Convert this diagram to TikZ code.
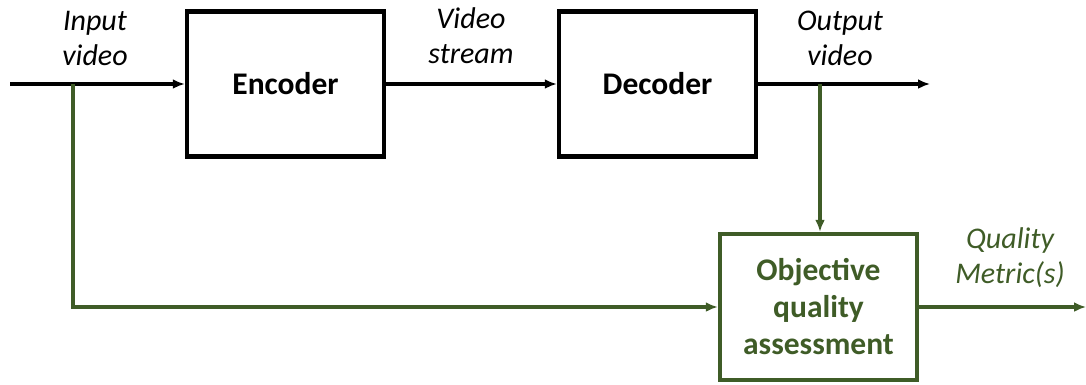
\documentclass[tikz,border=0pt]{standalone}
\usepackage{fontspec}
\setmainfont{Carlito}
\usepackage{tikz}
\usetikzlibrary{arrows.meta}
\usetikzlibrary{calc}

\definecolor{qagreen}{RGB}{63,92,39}

\tikzset{
	block/.style={draw, line width=4.5pt, minimum width=197pt, minimum height=145pt, align=center, font=\fontsize{31.5}{37}\selectfont\bfseries},
	lbl/.style={align=center, font=\fontsize{30}{35}\selectfont\itshape},
	flow/.style={-{Latex[length=12pt,width=10pt]}, line width=3.5pt},
}

\begin{document}
\begin{tikzpicture}[x=1pt,y=-1pt]
	\useasboundingbox (0,0) rectangle (1086,384);

	\node[block] (enc) at (285.5,84) {Encoder};
	\node[block] (dec) at (657.5,84) {Decoder};
	\node[block, qagreen, minimum height=146pt] (oqa) at (818.5,307) {Objective\\quality\\assessment};

	\coordinate (src) at (10,84);
	\coordinate (tapin) at (73,84);
	\coordinate (out) at (930,84);
	\coordinate (tapout) at (820,84);
	\coordinate (qm) at (1086,307);

	\node[lbl] (lin) at (95,38) {Input\\video};
	\node[lbl] (lstream) at (471,36) {Video\\stream};
	\node[lbl] (lout) at (840,38) {Output\\video};
	\node[lbl, qagreen] (lqm) at (1010,258) {Quality\\Metric(s)};

	\draw[flow] (src) -- (enc);
	\draw[flow] (enc) -- (dec);
	\draw[flow] (dec) -- (out);
	\draw[flow, qagreen] (tapin) |- (oqa.west);
	\draw[flow, qagreen] (tapout) -- (tapout |- oqa.north);
	\draw[flow, qagreen] (oqa) -- (qm);
\end{tikzpicture}
\end{document}
